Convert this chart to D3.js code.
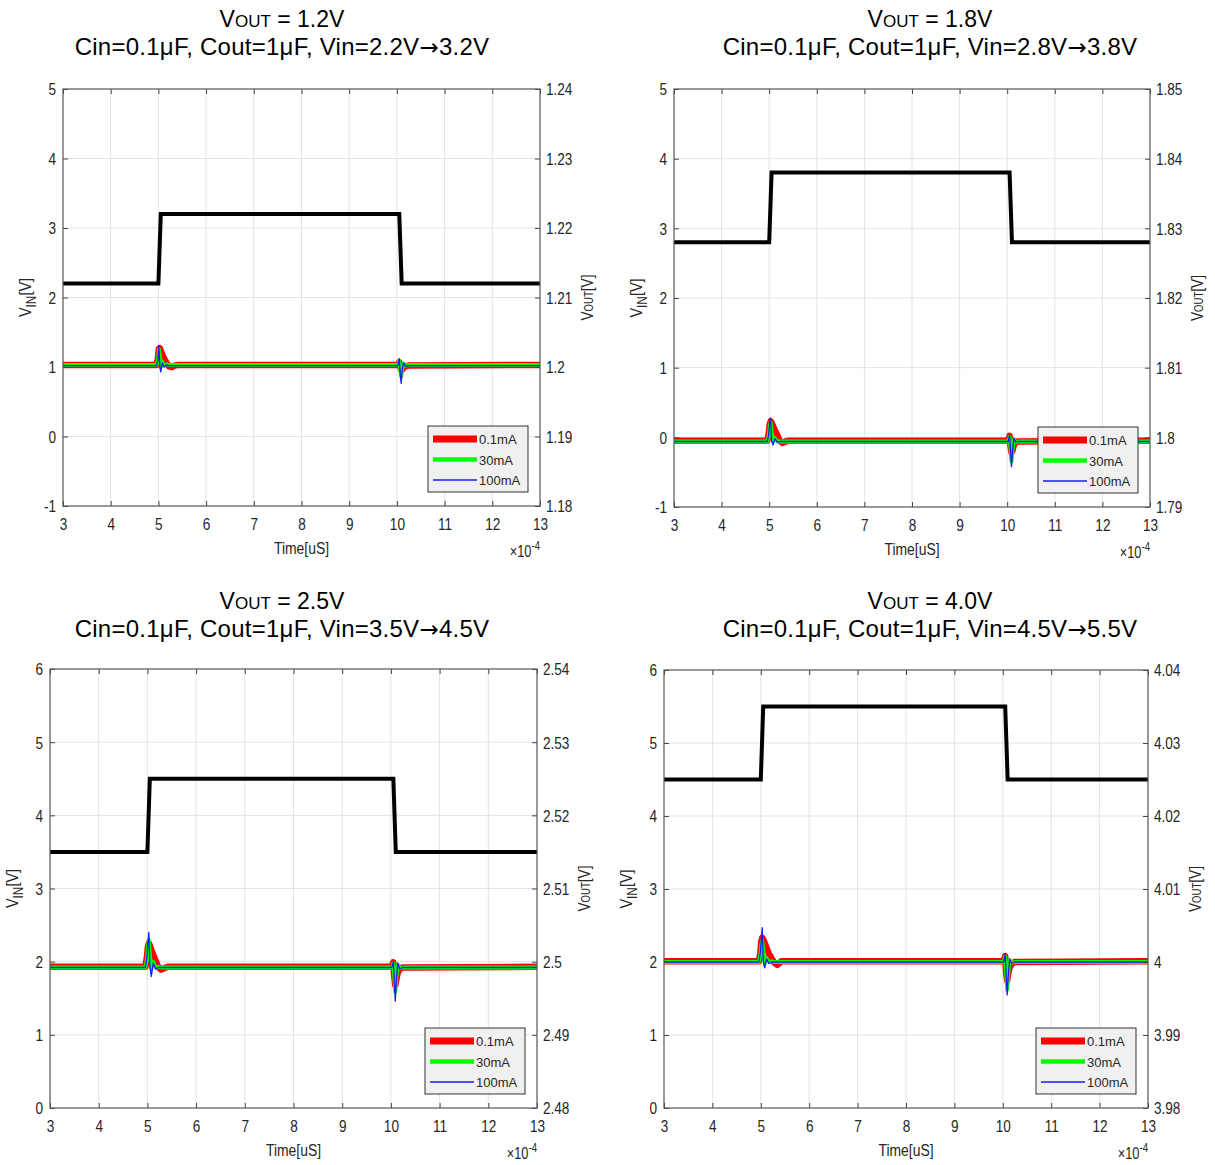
<!DOCTYPE html>
<html><head><meta charset="utf-8">
<script src="https://cdn.jsdelivr.net/npm/d3@7"></script>
<style>
body{margin:0;background:#fff}
svg{display:block}
text{font-family:"Liberation Sans",Arial,sans-serif}
</style>
</head><body>
<svg id="c" width="1215" height="1165"></svg>
<script>
// ---------------- DATA ----------------
const timeTicks = [3,4,5,6,7,8,9,10,11,12,13];
const loadLabels = ["0.1mA","30mA","100mA"];

const vinTime = [3, 5.0, 5.05, 10.05, 10.1, 13];
const p1Vin = [2.2, 2.2, 3.2, 3.2, 2.2, 2.2];
const p2Vin = [2.8, 2.8, 3.8, 3.8, 2.8, 2.8];
const p3Vin = [3.5, 3.5, 4.5, 4.5, 3.5, 3.5];
const p4Vin = [4.5, 4.5, 5.5, 5.5, 4.5, 4.5];

const voutTime = [3, 4.96, 4.99, 5.01, 5.03, 5.05, 5.08, 5.12, 5.17, 5.22, 5.28, 5.34, 5.42,
                  10.02, 10.05, 10.07, 10.09, 10.11, 10.14, 10.18, 10.24, 13];

const p1Load01  = [1.2003,1.2003,1.2012,1.2026,1.2027,1.2023,1.2018,1.2012,1.2006,1.2001,1.2000,1.2002,1.2003,1.2003,1.2007,1.2000,1.1996,1.1996,1.1999,1.2001,1.2002,1.2003];
const p1Load30  = [1.2003,1.2003,1.2010,1.2026,1.2018,1.2000,1.2008,1.2002,1.2004,1.2003,1.2003,1.2003,1.2003,1.2003,1.2009,1.1995,1.1986,1.1996,1.2005,1.2002,1.2003,1.2003];
const p1Load100 = [1.2002,1.2002,1.2010,1.2031,1.2000,1.1993,1.2006,1.2000,1.2003,1.2002,1.2002,1.2002,1.2002,1.2002,1.2012,1.1990,1.19765,1.1995,1.2006,1.2001,1.2002,1.2002];

const p2Load01  = [1.7995,1.7995,1.8005,1.8018,1.8023,1.8021,1.8016,1.8010,1.8003,1.7995,1.7992,1.7994,1.7995,1.7995,1.8002,1.7988,1.7978,1.7981,1.7989,1.7993,1.7994,1.7995];
const p2Load30  = [1.7994,1.7994,1.8003,1.8016,1.8022,1.8010,1.7994,1.7999,1.7994,1.7994,1.7994,1.7994,1.7994,1.7994,1.8001,1.7982,1.7965,1.7980,1.7997,1.7993,1.7994,1.7994];
const p2Load100 = [1.7994,1.7994,1.8004,1.8020,1.8028,1.7995,1.7989,1.7998,1.7993,1.7994,1.7994,1.7994,1.7994,1.7994,1.8003,1.7980,1.7958,1.7978,1.7999,1.7993,1.7994,1.7994];

const p3Load01  = [2.4993,2.4993,2.5006,2.5020,2.5025,2.5022,2.5016,2.5009,2.5001,2.4993,2.4989,2.4991,2.4993,2.4993,2.4999,2.4980,2.4968,2.4975,2.4985,2.4990,2.4992,2.4993];
const p3Load30  = [2.4992,2.4992,2.5004,2.5020,2.5030,2.5012,2.4990,2.5000,2.4992,2.4993,2.4992,2.4992,2.4992,2.4992,2.4998,2.4978,2.4958,2.4976,2.4996,2.4991,2.4992,2.4992];
const p3Load100 = [2.4992,2.4992,2.5005,2.5025,2.5040,2.4995,2.4980,2.4998,2.4990,2.4992,2.4992,2.4992,2.4992,2.4992,2.5000,2.4975,2.4946,2.4972,2.4998,2.4990,2.4992,2.4992];

const p4Load01  = [4.0001,4.0001,4.0012,4.0028,4.0033,4.0031,4.0026,4.0019,4.0011,4.0005,3.9999,3.9996,4.0001,4.0001,4.0008,3.9985,3.9975,3.9983,3.9992,3.9997,4.0000,4.0001];
const p4Load30  = [4.0000,4.0000,4.0010,4.0024,4.0030,4.0018,3.9998,4.0005,4.0000,4.0001,4.0000,4.0000,4.0000,4.0000,4.0008,3.9982,3.9962,3.9980,4.0003,3.9999,4.0000,4.0000];
const p4Load100 = [4.0000,4.0000,4.0012,4.0030,4.0047,4.0002,3.9992,4.0004,3.9998,4.0000,4.0000,4.0000,4.0000,4.0000,4.0011,3.9980,3.9955,3.9978,4.0004,3.9998,4.0000,4.0000];

const p1LeftTicks = [-1,0,1,2,3,4,5];
const p2LeftTicks = [-1,0,1,2,3,4,5];
const p3LeftTicks = [0,1,2,3,4,5,6];
const p4LeftTicks = [0,1,2,3,4,5,6];
const p1RightTicks = [1.18,1.19,1.20,1.21,1.22,1.23,1.24];
const p2RightTicks = [1.79,1.80,1.81,1.82,1.83,1.84,1.85];
const p3RightTicks = [2.48,2.49,2.50,2.51,2.52,2.53,2.54];
const p4RightTicks = [3.98,3.99,4.00,4.01,4.02,4.03,4.04];

const voutNominal = ["1.2V","1.8V","2.5V","4.0V"];
const subTitleHead = ["Cin=0.1\u03bcF, Cout=1\u03bcF, Vin=2.2V","Cin=0.1\u03bcF, Cout=1\u03bcF, Vin=2.8V",
                      "Cin=0.1\u03bcF, Cout=1\u03bcF, Vin=3.5V","Cin=0.1\u03bcF, Cout=1\u03bcF, Vin=4.5V"];
const subTitleTail = ["3.2V","3.8V","4.5V","5.5V"];

// ---------------- LAYOUT ----------------
const panels = [
  {left:63,  right:540,  top:89,  bottom:506, cx:282, ty:27,  vin:p1Vin, loads:[p1Load01,p1Load30,p1Load100], lt:p1LeftTicks, rt:p1RightTicks},
  {left:674, right:1150, top:89,  bottom:507, cx:930, ty:27,  vin:p2Vin, loads:[p2Load01,p2Load30,p2Load100], lt:p2LeftTicks, rt:p2RightTicks},
  {left:50,  right:537,  top:669, bottom:1108, cx:282, ty:609, vin:p3Vin, loads:[p3Load01,p3Load30,p3Load100], lt:p3LeftTicks, rt:p3RightTicks},
  {left:664, right:1148, top:670, bottom:1108, cx:930, ty:609, vin:p4Vin, loads:[p4Load01,p4Load30,p4Load100], lt:p4LeftTicks, rt:p4RightTicks}
];
const loadColors = ["#ff0000","#00ff00","#1a1aff"];
const loadWidths = [6.5, 3.8, 1.3];
const SX = 0.8; // condensed tick font

const svg = d3.select("#c");

panels.forEach((p,i)=>{
  const g = svg.append("g");
  const x = d3.scaleLinear().domain([3,13]).range([p.left,p.right]);
  const yL = d3.scaleLinear().domain([p.lt[0],p.lt[p.lt.length-1]]).range([p.bottom,p.top]);
  const yR = d3.scaleLinear().domain([p.rt[0],p.rt[p.rt.length-1]]).range([p.bottom,p.top]);

  // titles
  const t1 = g.append("text").attr("x",p.cx).attr("y",p.ty).attr("text-anchor","middle").attr("font-size",23).attr("fill","#000");
  t1.append("tspan").text("V");
  t1.append("tspan").attr("font-size",17).text("OUT");
  t1.append("tspan").text(" = " + voutNominal[i]);
  const t2 = g.append("text").attr("x",p.cx).attr("y",p.ty+28).attr("text-anchor","middle").attr("font-size",24)
    .attr("letter-spacing",0.25).attr("fill","#000");
  t2.append("tspan").text(subTitleHead[i]);
  t2.append("tspan").attr("font-family","'DejaVu Sans',sans-serif").attr("font-size",23).text("\u2192");
  t2.append("tspan").text(subTitleTail[i]);

  // grid
  g.append("g").selectAll("line").data(timeTicks.slice(1,-1)).join("line")
    .attr("x1",d=>x(d)).attr("x2",d=>x(d)).attr("y1",p.top).attr("y2",p.bottom)
    .attr("stroke","#e3e3e3").attr("stroke-width",1);
  g.append("g").selectAll("line").data(p.lt.slice(1,-1)).join("line")
    .attr("y1",d=>yL(d)).attr("y2",d=>yL(d)).attr("x1",p.left).attr("x2",p.right)
    .attr("stroke","#e3e3e3").attr("stroke-width",1);

  // clip
  const cid = "clip"+i;
  g.append("clipPath").attr("id",cid).append("rect")
    .attr("x",p.left).attr("y",p.top).attr("width",p.right-p.left).attr("height",p.bottom-p.top);
  const plot = g.append("g").attr("clip-path",`url(#${cid})`);

  // vin line
  const lineL = d3.line().x((d,k)=>x(vinTime[k])).y(d=>yL(d));
  plot.append("path").datum(p.vin).attr("d",lineL).attr("fill","none")
    .attr("stroke","#000").attr("stroke-width",4).attr("stroke-linejoin","miter");

  // vout lines
  const lineR = d3.line().x((d,k)=>x(voutTime[k])).y(d=>yR(d));
  p.loads.forEach((arr,j)=>{
    plot.append("path").datum(arr).attr("d",lineR).attr("fill","none")
      .attr("stroke",loadColors[j]).attr("stroke-width",loadWidths[j]).attr("stroke-linejoin","round");
  });

  // axes
  const styleAxis = sel => {
    sel.select(".domain").remove();
    sel.selectAll(".tick line").attr("stroke","#444");
    sel.selectAll("text").attr("font-size",17).attr("fill","#262626")
      .attr("font-family","'Liberation Sans',Arial,sans-serif");
  };
  const ax = g.append("g").attr("transform",`translate(0,${p.bottom})`)
    .call(d3.axisBottom(x).tickValues(timeTicks).tickSize(-5).tickPadding(0).tickFormat(d=>String(d)));
  styleAxis(ax);
  ax.selectAll("text").attr("y",24).attr("dy",null).attr("transform",`scale(${SX},1)`);

  const axT = g.append("g").attr("transform",`translate(0,${p.top})`)
    .call(d3.axisTop(x).tickValues(timeTicks).tickSize(-5).tickFormat(""));
  styleAxis(axT);

  const ay = g.append("g").attr("transform",`translate(${p.left},0)`)
    .call(d3.axisLeft(yL).tickValues(p.lt).tickSize(-5).tickFormat(d=>String(d)));
  styleAxis(ay);
  ay.selectAll("text").attr("x",-7/SX).attr("dy","0.35em").attr("transform",`scale(${SX},1)`);

  const ayR = g.append("g").attr("transform",`translate(${p.right},0)`)
    .call(d3.axisRight(yR).tickValues(p.rt).tickSize(-5).tickFormat(d=>String(+d.toFixed(2))));
  styleAxis(ayR);
  ayR.selectAll("text").attr("x",6/SX).attr("dy","0.35em").attr("transform",`scale(${SX},1)`);

  // box
  g.append("rect").attr("x",p.left).attr("y",p.top).attr("width",p.right-p.left).attr("height",p.bottom-p.top)
    .attr("fill","none").attr("stroke","#555").attr("stroke-width",1.2);

  // axis labels
  const cy = (p.top+p.bottom)/2;
  const lx = p.left-32;
  const yl = g.append("text").attr("transform",`translate(${lx},${cy}) rotate(-90) scale(0.85,1)`)
    .attr("text-anchor","middle").attr("font-size",17).attr("fill","#262626");
  yl.append("tspan").text("V");
  yl.append("tspan").attr("font-size",14).attr("dy",5).text("IN");
  yl.append("tspan").attr("dy",-5).text("[V]");

  const rx = p.right+53;
  const yr = g.append("text").attr("transform",`translate(${rx},${cy}) rotate(-90) scale(0.8,1)`)
    .attr("text-anchor","middle").attr("font-size",17).attr("fill","#262626");
  yr.append("tspan").text("V");
  yr.append("tspan").attr("font-size",12).text("OUT");
  yr.append("tspan").text("[V]");

  g.append("text").attr("transform",`translate(${(p.left+p.right)/2},${p.bottom+48}) scale(0.82,1)`)
    .attr("text-anchor","middle").attr("font-size",17).attr("fill","#262626").text("Time[uS]");

  const mx = g.append("text").attr("transform",`translate(${p.right},${p.bottom+51}) scale(0.8,1)`)
    .attr("text-anchor","end").attr("font-size",16).attr("fill","#262626");
  mx.append("tspan").text("\u00d710");
  mx.append("tspan").attr("font-size",12).attr("dy",-7).text("-4");

  // legend
  const bx = p.right-112, by = p.bottom-80;
  const lg = g.append("g");
  lg.append("rect").attr("x",bx).attr("y",by).attr("width",100).attr("height",66)
    .attr("fill","#f0f0f0").attr("stroke","#333").attr("stroke-width",1);
  loadLabels.forEach((lab,j)=>{
    const ry = by + 13 + j*20.5;
    lg.append("line").attr("x1",bx+5).attr("x2",bx+49).attr("y1",ry).attr("y2",ry)
      .attr("stroke",loadColors[j]).attr("stroke-width",[7,4.5,1.3][j]);
    lg.append("text").attr("x",bx+51).attr("y",ry+5).attr("font-size",13).attr("fill","#262626").text(lab);
  });
});
</script>
</body></html>
